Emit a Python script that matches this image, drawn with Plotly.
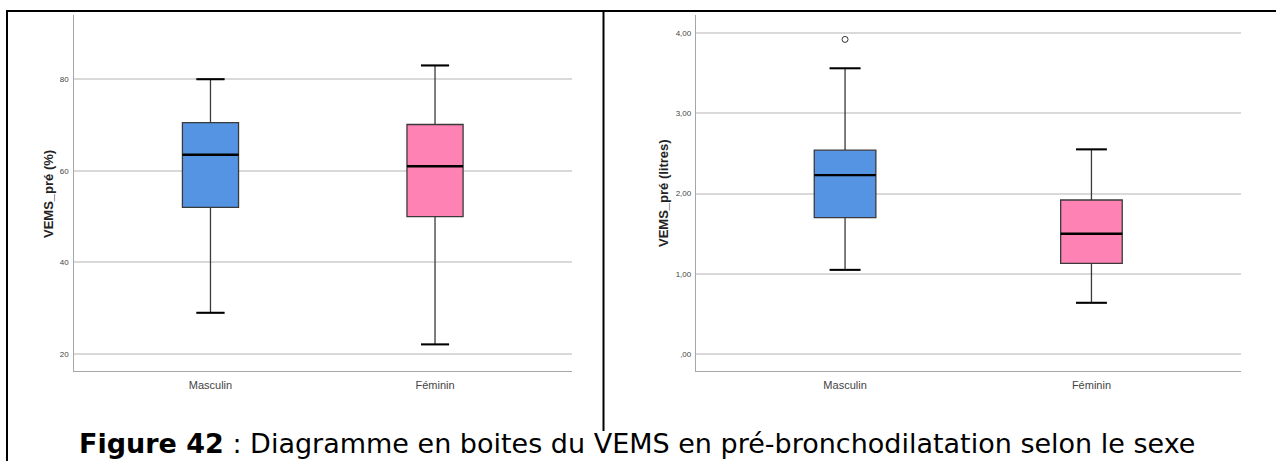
import plotly.graph_objects as go

# Groups
categories = ["Masculin", "Féminin"]

# VEMS pré-bronchodilatation (%) : box statistics per sex
pct_lower = [29.0, 22.1]
pct_q1 = [52.0, 50.0]
pct_median = [63.5, 61.0]
pct_q3 = [70.5, 70.1]
pct_upper = [80.0, 83.0]

# VEMS pré-bronchodilatation (litres) : box statistics per sex
lit_lower = [1.05, 0.64]
lit_q1 = [1.70, 1.13]
lit_median = [2.23, 1.50]
lit_q3 = [2.54, 1.92]
lit_upper = [3.56, 2.55]

# Outlying values (group index, value)
lit_outliers_group = [0]
lit_outliers_value = [3.92]

# Axis ticks
pct_ticks = [20, 40, 60, 80]
pct_ticktext = ["20", "40", "60", "80"]
lit_ticks = [0, 1, 2, 3, 4]
lit_ticktext = [",00", "1,00", "2,00", "3,00", "4,00"]

W, H = 1276, 461
FILL = ["#5594E2", "#FF82B4"]
BOX_W = 0.25
TICK_FONT = "Liberation Sans Narrow, Arial Narrow, Liberation Sans, Arial, sans-serif"

fig = go.Figure()


def add_panel(xa, ya, lower, q1, med, q3, upper):
    for i, name in enumerate(categories):
        fig.add_trace(go.Box(
            x=[i], q1=[q1[i]], median=[med[i]], q3=[q3[i]],
            lowerfence=[lower[i]], upperfence=[upper[i]],
            width=BOX_W, whiskerwidth=0.5, boxpoints=False,
            fillcolor=FILL[i], line=dict(color="#3a3a3a", width=1.3),
            xaxis=xa, yaxis=ya, name=name, showlegend=False, hoverinfo="skip",
        ))
        # thicker median line
        fig.add_trace(go.Scatter(
            x=[i - BOX_W / 2, i + BOX_W / 2], y=[med[i], med[i]],
            mode="lines", line=dict(color="black", width=2.4),
            xaxis=xa, yaxis=ya, showlegend=False, hoverinfo="skip",
        ))
        # whisker caps
        for v in (lower[i], upper[i]):
            fig.add_trace(go.Scatter(
                x=[i - BOX_W / 4, i + BOX_W / 4], y=[v, v],
                mode="lines", line=dict(color="black", width=2),
                xaxis=xa, yaxis=ya, showlegend=False, hoverinfo="skip",
            ))


add_panel("x", "y", pct_lower, pct_q1, pct_median, pct_q3, pct_upper)
add_panel("x2", "y2", lit_lower, lit_q1, lit_median, lit_q3, lit_upper)

fig.add_trace(go.Scatter(
    x=lit_outliers_group, y=lit_outliers_value, mode="markers",
    marker=dict(symbol="circle-open", size=6, color="#333333", line=dict(width=1)),
    xaxis="x2", yaxis="y2", showlegend=False, hoverinfo="skip",
))

y_dom = [1 - 371 / H, 1 - 15 / H]

xaxis_common = dict(
    tickvals=[0, 1], ticktext=categories, showgrid=False, zeroline=False,
    showline=True, linecolor="#a6a6a6", linewidth=1.3, ticks="",
    tickfont=dict(family=TICK_FONT, size=11, color="#444444"),
    ticklabelstandoff=4,
)
yaxis_common = dict(
    showgrid=True, gridcolor="#d9d9d9", gridwidth=1.5, zeroline=False,
    showline=True, linecolor="#a6a6a6", linewidth=1.3, ticks="",
    tickfont=dict(family=TICK_FONT, size=8, color="#444444"),
    ticklabelstandoff=2,
)

fig.update_layout(
    width=W, height=H, margin=dict(l=0, r=0, t=0, b=0),
    paper_bgcolor="white", plot_bgcolor="white", boxmode="overlay",
    xaxis=dict(domain=[73.5 / W, 572 / W], range=[-0.61, 1.61], **xaxis_common),
    yaxis=dict(domain=y_dom, range=[16.3, 94.0], tickvals=pct_ticks,
               ticktext=pct_ticktext, **yaxis_common),
    xaxis2=dict(domain=[696 / W, 1241 / W], range=[-0.605, 1.607],
                anchor="y2", **xaxis_common),
    yaxis2=dict(domain=y_dom, range=[-0.21, 4.224], tickvals=lit_ticks,
                ticktext=lit_ticktext, anchor="x2", **yaxis_common),
)

# axis titles
title_font = dict(family="Liberation Sans, Arial, sans-serif", size=13, color="#222222")
fig.add_annotation(text="<b>VEMS_pré (%)</b>", textangle=-90, xref="paper", yref="paper",
                   x=48 / W, y=1 - 194 / H, xanchor="center", yanchor="middle",
                   showarrow=False, font=title_font)
fig.add_annotation(text="<b>VEMS_pré (litres)</b>", textangle=-90, xref="paper", yref="paper",
                   x=663 / W, y=1 - 193 / H, xanchor="center", yanchor="middle",
                   showarrow=False, font=title_font)

# caption
fig.add_annotation(
    text="<b>Figure 42</b> : Diagramme en boites du VEMS en pré-bronchodilatation selon le sexe",
    xref="paper", yref="paper", x=637 / W, y=1 - 443 / H, showarrow=False,
    xanchor="center", yanchor="middle",
    font=dict(family="DejaVu Sans, sans-serif", size=27, color="black"),
)

# frame lines
frame = dict(type="line", xref="paper", yref="paper", line=dict(color="black", width=2))
fig.add_shape(x0=6 / W, x1=1, y0=1 - 11 / H, y1=1 - 11 / H, **frame)
fig.add_shape(x0=7 / W, x1=7 / W, y0=0, y1=1 - 10 / H, **frame)
fig.add_shape(x0=603.5 / W, x1=603.5 / W, y0=1 - 431 / H, y1=1 - 10 / H, **frame)

fig.write_html("out.html")
